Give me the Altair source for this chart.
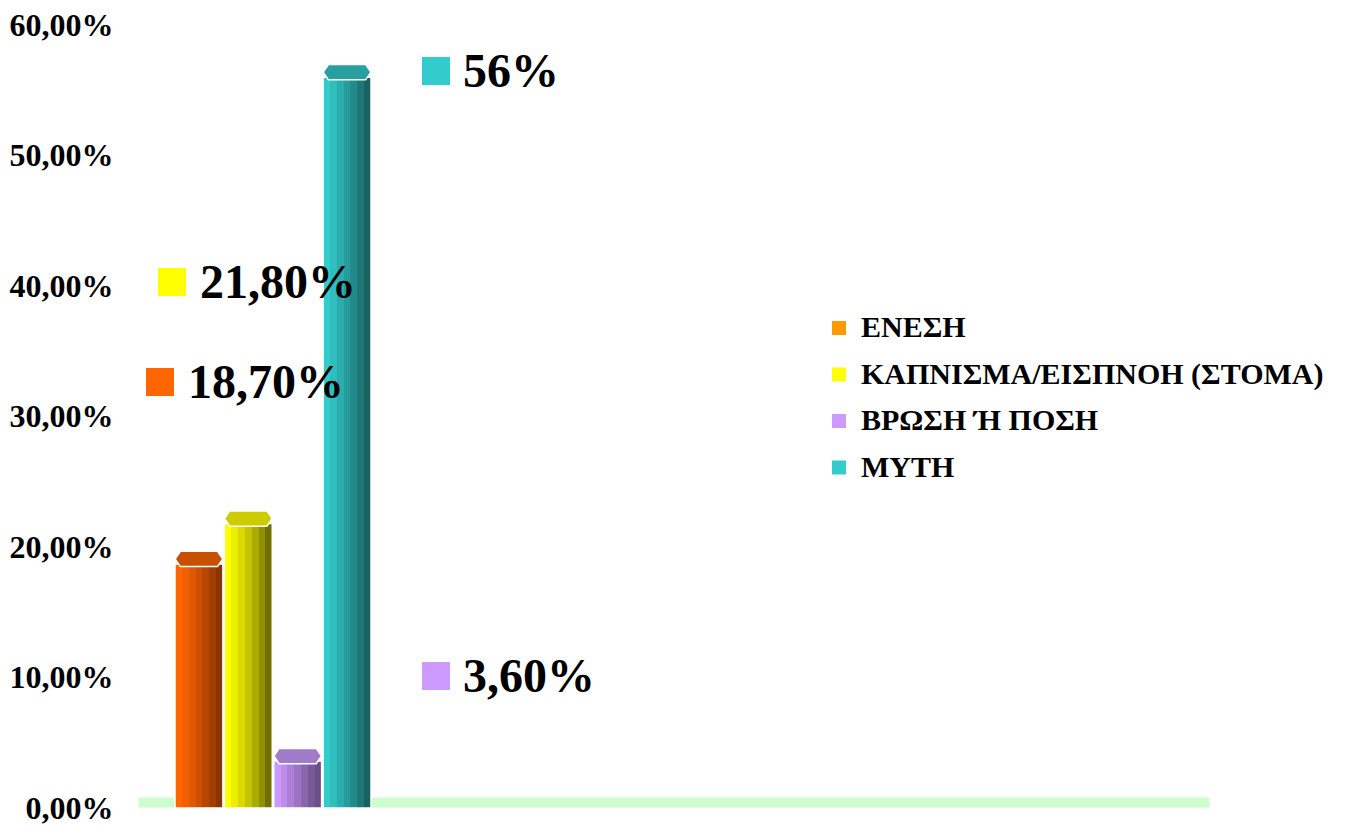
import altair as alt
import pandas as pd

# ---- data ----
categories = ["ΕΝΕΣΗ", "ΚΑΠΝΙΣΜΑ/ΕΙΣΠΝΟΗ (ΣΤΟΜΑ)", "ΒΡΩΣΗ Ή ΠΟΣΗ", "ΜΥΤΗ"]
values = [18.7, 21.8, 3.6, 56.0]
value_labels = ["18,70%", "21,80%", "3,60%", "56%"]
y_ticks = [0, 10, 20, 30, 40, 50, 60]

# ---- styles ----
legend_colors = ["#FF9900", "#FFFF00", "#CC99FF", "#33CCCC"]
label_square_colors = ["#FF6600", "#FFFF00", "#CC99FF", "#33CCCC"]
bar_stripes = [
    ["#FF6600", "#F26000", "#E05800", "#CC5000", "#B84600", "#A03D00", "#8A3500"],
    ["#FFFF00", "#EDED00", "#DADA00", "#C4C400", "#ABAB00", "#919100", "#707000"],
    ["#CC99FF", "#BC8DEB", "#AC80D6", "#9B73C2", "#8A66AD", "#795A99", "#6A4F88"],
    ["#33CCCC", "#2FBDBD", "#2BADAD", "#279C9C", "#228A8A", "#1D7777", "#186262"],
]
cap_colors = ["#C85000", "#CCCC00", "#A07CC8", "#2A9F9F"]
# label layout (plot coords): square x, square y, text x
label_layout = [(25, 357, 53), (37, 257, 65), (301, 651, 328), (301, 46, 328)]

FONT = "Liberation Serif"
W, H = 1075, 783

df = pd.DataFrame({"cat": categories, "value": values, "label": value_labels})

xscale = alt.Scale(domain=categories, range=[40, 236], paddingInner=0.03, paddingOuter=0)
yscale = alt.Scale(domain=[0, 60], nice=False, zero=True)

X = alt.X("cat:N", scale=xscale, sort=categories, axis=None)
Y_axis = alt.Axis(
    values=y_ticks,
    labelExpr="replace(format(datum.value, '.2f'), '.', ',') + '%'",
    labelFont=FONT, labelFontWeight="bold", labelFontSize=32, labelColor="black",
    domain=False, ticks=False, grid=False, labelPadding=22, title=None,
)
Y = alt.Y("value:Q", scale=yscale, axis=Y_axis)

base = alt.Chart(df)

layers = []

# floor
floor = alt.Chart(pd.DataFrame({"a": [0]})).mark_rect(
    fill="#CCFFCC", stroke="white", strokeWidth=1
).encode(x=alt.value(3), x2=alt.value(1075), y=alt.value(772), y2=alt.value(783))
layers.append(floor)

# invisible layer carrying the legend
legend_layer = base.mark_square(opacity=0).encode(
    x=X, y=Y,
    color=alt.Color(
        "cat:N",
        scale=alt.Scale(domain=categories, range=legend_colors),
        legend=alt.Legend(
            orient="none", legendX=689, legendY=288, title=None,
            symbolType="square", symbolSize=196, symbolOpacity=1, symbolStrokeWidth=0,
            labelFont=FONT, labelFontWeight="bold", labelFontSize=30, labelColor="black",
            rowPadding=16.5, labelOffset=7, padding=0, labelLimit=800,
        ),
    ),
)
layers.append(legend_layer)

cap_path = "M -1 0 L -0.78 -0.32 L 0.78 -0.32 L 1 0 L 0.78 0.32 L -0.78 0.32 Z"

for i, cat in enumerate(categories):
    stripes = bar_stripes[i]
    n = len(stripes)
    stops = []
    for k, c in enumerate(stripes):
        stops.append({"offset": k / n, "color": c})
        stops.append({"offset": (k + 1) / n, "color": c})
    grad = {"gradient": "linear", "x1": 0, "x2": 1, "y1": 0, "y2": 0, "stops": stops}
    sub = base.transform_filter(alt.datum.cat == cat)
    bar = sub.mark_bar(fill=grad, stroke="white", strokeWidth=1.5).encode(x=X, y=Y)
    cap = sub.mark_point(
        shape=cap_path, size=2270, filled=True, fill=cap_colors[i],
        stroke="white", strokeWidth=1.5, opacity=1, yOffset=-5,
    ).encode(x=X, y=Y)
    layers += [bar, cap]

# value labels with keys
for i, cat in enumerate(categories):
    sx, sy, tx = label_layout[i]
    sub = base.transform_filter(alt.datum.cat == cat)
    sq = sub.mark_square(size=784, color=label_square_colors[i], opacity=1).encode(
        x=alt.value(sx), y=alt.value(sy)
    )
    txt = sub.mark_text(
        align="left", baseline="middle", font=FONT, fontWeight="bold",
        fontSize=48, color="black",
    ).encode(x=alt.value(tx), y=alt.value(sy + 2), text="label:N")
    layers += [sq, txt]

chart = alt.layer(*layers).properties(
    width=W, height=H,
    autosize=alt.AutoSizeParams(type="none"),
    padding={"left": 127, "top": 17, "right": 126, "bottom": 16},
    background="white",
).configure_view(stroke=None)

chart.save("out.html", embed_options={"renderer": "svg", "actions": False})
